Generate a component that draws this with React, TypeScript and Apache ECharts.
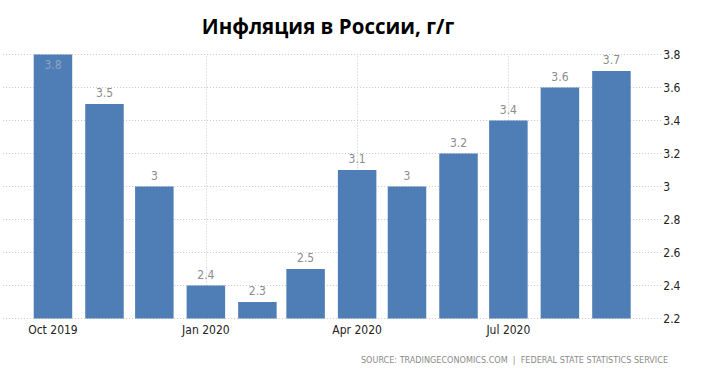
import React, { useEffect, useRef } from "react";
import * as echarts from "echarts";

const months = ["2019-10", "2019-11", "2019-12", "2020-01", "2020-02", "2020-03", "2020-04", "2020-05", "2020-06", "2020-07", "2020-08", "2020-09"];
const values = [3.8, 3.5, 3.0, 2.4, 2.3, 2.5, 3.1, 3.0, 3.2, 3.4, 3.6, 3.7];
const shownMonths = ["2019-10", "2020-01", "2020-04", "2020-07"];
const shownLabels = ["Oct 2019", "Jan 2020", "Apr 2020", "Jul 2020"];
const yTicks = [2.2, 2.4, 2.6, 2.8, 3.0, 3.2, 3.4, 3.6, 3.8];
const xRange = ["2019-09", "2020-10"];

const TITLE = "Инфляция в России, г/г";
const SOURCE = "SOURCE: TRADINGECONOMICS.COM  |  FEDERAL STATE STATISTICS SERVICE";

const ts = (m: string) => {
  const [y, mo] = m.split("-").map(Number);
  return Date.UTC(y, mo - 1, 1);
};

export default function App() {
  const ref = useRef<HTMLDivElement>(null);
  useEffect(() => {
    if (!ref.current) return;
    document.body.style.margin = "0";
    const chart = echarts.init(ref.current, undefined, { renderer: "svg" });
    const yMin = yTicks[0];
    const yMax = yTicks[yTicks.length - 1];
    const shownTs = shownMonths.map(ts);
    chart.setOption({
      animation: false,
      backgroundColor: "#ffffff",
      title: {
        text: TITLE,
        left: 323,
        top: 10,
        textAlign: "center",
        textStyle: { fontFamily: "Open Sans", fontWeight: "bold", fontSize: 20.5, color: "#000" },
      },
      graphic: [
        {
          type: "text",
          right: 33,
          top: 355,
          style: { text: SOURCE, fontFamily: "DejaVu Sans Condensed", fontSize: 9, fill: "#8a8a8a" },
        },
      ],
      grid: { left: 3.1, right: 39.7, top: 54.5, bottom: 61.5 },
      xAxis: {
        type: "value",
        min: ts(xRange[0]),
        max: ts(xRange[1]),
        axisLine: { show: false },
        axisTick: { show: false },
        splitLine: { show: false },
        axisLabel: {
          customValues: shownTs,
          showMinLabel: true,
          showMaxLabel: true,
          margin: 5,
          formatter: (v: number) => {
            const i = shownTs.indexOf(v);
            return i >= 0 ? shownLabels[i] : "";
          },
          fontFamily: "DejaVu Sans Condensed",
          fontSize: 12,
          color: "#222",
        },
      },
      yAxis: {
        type: "value",
        position: "right",
        min: yMin,
        max: yMax,
        interval: 0.2,
        axisLine: { show: false },
        axisTick: { show: false },
        axisLabel: {
          margin: 2,
          align: "left",
          fontFamily: "DejaVu Sans Condensed",
          fontSize: 12,
          color: "#222",
          formatter: (v: number) => String(Math.round(v * 10) / 10),
        },
        splitLine: { show: true, lineStyle: { color: "#c8c8c8", type: [1, 2], width: 1 } },
      },
      series: [
        {
          type: "bar",
          barWidth: 38.5,
          z: 3,
          itemStyle: { color: "#4f7db5" },
          data: months.map((m, i) =>
            i === 0
              ? { value: [ts(m), values[i]], label: { position: "insideTop", distance: 4, color: "#8fa3c0" } }
              : { value: [ts(m), values[i]] }
          ),
          label: {
            show: true,
            position: "top",
            distance: 5,
            fontFamily: "DejaVu Sans Condensed",
            fontSize: 12,
            color: "#8c8c8c",
            formatter: (p: any) => String(p.value[1]),
          },
          markLine: {
            silent: true,
            symbol: "none",
            label: { show: false },
            lineStyle: { color: "#c8c8c8", type: [1, 2], width: 1 },
            z: 1,
            data: shownTs.map((t) => ({ xAxis: t })),
          },
        },
      ],
    });
    return () => chart.dispose();
  }, []);
  return <div ref={ref} style={{ width: 701, height: 380 }} />;
}
